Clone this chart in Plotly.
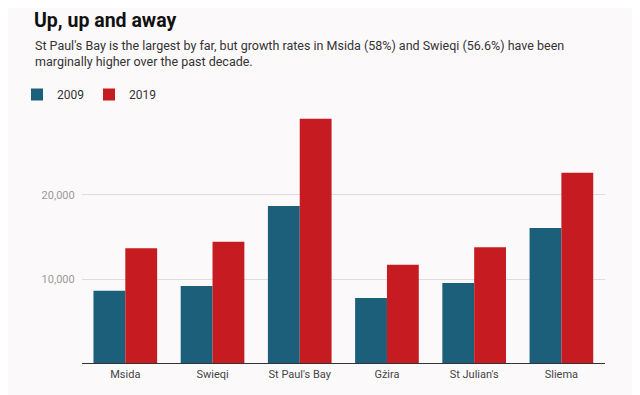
import plotly.graph_objects as go

categories = ["Msida", "Swieqi", "St Paul's Bay", "Gżira", "St Julian's", "Sliema"]
values_2009 = [8620, 9180, 18680, 7760, 9540, 16070]
values_2019 = [13660, 14440, 29050, 11710, 13780, 22640]
tick_vals = [10000, 20000]
tick_text = ["10,000", "20,000"]

W, H = 640, 395
OFF = 8  # page body margin
BG = "#fcf9fb"
BLUE = "#1b5f7b"
RED = "#c61b21"
FONT = "Roboto"

fig = go.Figure()
fig.add_trace(go.Bar(name="2009", x=categories, y=values_2009, marker=dict(color=BLUE, line=dict(width=0))))
fig.add_trace(go.Bar(name="2019", x=categories, y=values_2019, marker=dict(color=RED, line=dict(width=0))))

x0, x1 = 81.7 - OFF, 605 - OFF
ytop, ybot = 110.7 - OFF, 363.3 - OFF

def px(x):
    return (x - OFF) / W

def py(y):
    return 1 - (y - OFF) / H

fig.update_layout(
    width=W, height=H,
    paper_bgcolor=BG, plot_bgcolor=BG,
    margin=dict(l=0, r=0, t=0, b=0),
    barmode="group", bargap=0.27, bargroupgap=0,
    font=dict(family=FONT, color="#444"),
    showlegend=True,
    legend=dict(orientation="h", x=px(17), xanchor="left", y=py(80), yanchor="top",
                font=dict(size=12, color="#333"), bgcolor="rgba(0,0,0,0)",
                itemwidth=30, traceorder="normal"),
    xaxis=dict(domain=[x0 / W, x1 / W], showgrid=False, showline=True, linecolor="#333",
               linewidth=1, ticks="", tickfont=dict(size=11, color="#444"), fixedrange=True),
    yaxis=dict(domain=[1 - ybot / H, 1 - ytop / H], range=[0, 30000], tickvals=tick_vals,
               ticktext=tick_text, showgrid=True, gridcolor="#dddddd", gridwidth=1,
               zeroline=False, showline=False, ticks="", ticklabelstandoff=6,
               tickfont=dict(size=11, color="#999"), fixedrange=True),
    annotations=[
        dict(text="<b>Up, up and away</b>", x=px(33), y=1, xref="paper", yref="paper",
             xanchor="left", yanchor="top", showarrow=False, borderpad=0,
             font=dict(family=FONT, size=19.5, color="#111")),
        dict(text="St Paul's Bay is the largest by far, but growth rates in Msida (58%) and Swieqi (56.6%) have been<br>marginally higher over the past decade.",
             x=px(33), y=py(36), xref="paper", yref="paper", xanchor="left", yanchor="top",
             align="left", showarrow=False,
             font=dict(family=FONT, size=12.5, color="#333")),
    ],
)

fig.write_html("out.html")
